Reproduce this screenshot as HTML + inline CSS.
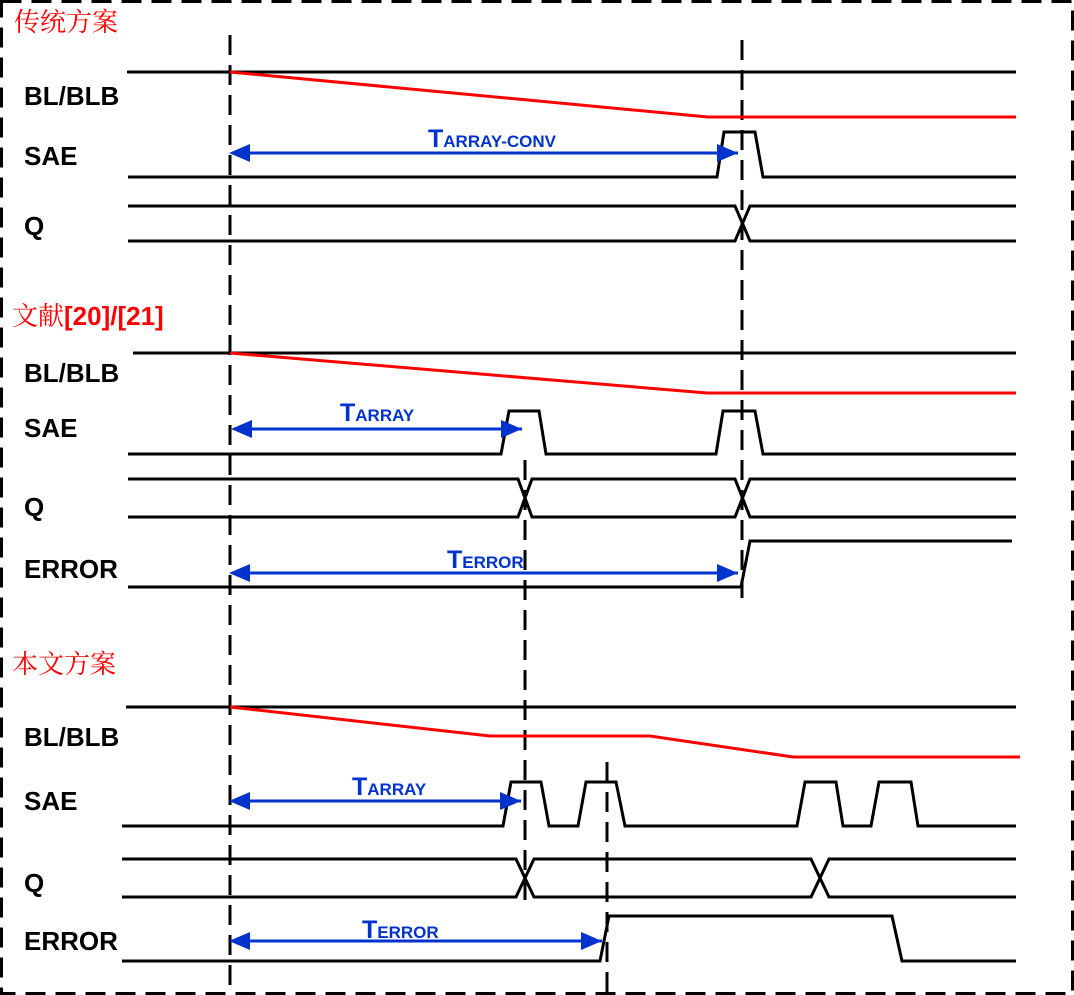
<!DOCTYPE html>
<html><head><meta charset="utf-8"><style>
html,body{margin:0;padding:0;background:#fff;}
svg{display:block;}
.lbl{font-family:"Liberation Sans",Arial,sans-serif;font-weight:bold;font-size:26px;fill:#000;}
.ttl{font-family:"Liberation Serif","Noto Serif CJK SC","Noto Sans CJK SC",serif;font-size:26px;fill:#ff0000;}
.ttlb{font-family:"Liberation Sans",sans-serif;font-weight:bold;font-size:26px;fill:#ff0000;}
.ann{font-family:"Liberation Sans",Arial,sans-serif;font-weight:bold;fill:#0033cc;}
.w{fill:none;stroke:#000;stroke-width:3;stroke-linejoin:miter;}
.r{fill:none;stroke:#ff0000;stroke-width:3;}
.d{fill:none;stroke:#000;stroke-width:3;stroke-dasharray:20,10;}
.a{stroke:#0033cc;stroke-width:3;}
</style></head><body>
<svg width="1074" height="995" viewBox="0 0 1074 995">
<defs>
<marker id="ah" markerWidth="8" markerHeight="8" refX="7" refY="4" orient="auto" markerUnits="strokeWidth"><path d="M0,1 L7,4 L0,7 Z" fill="#0033cc"/></marker>
<marker id="at" markerWidth="8" markerHeight="8" refX="1" refY="4" orient="auto" markerUnits="strokeWidth"><path d="M7,1 L0,4 L7,7 Z" fill="#0033cc"/></marker>
</defs>
<rect x="1.5" y="1.5" width="1071" height="992" fill="none" stroke="#000" stroke-width="3" stroke-dasharray="20,10"/>

<line class="d" x1="230" y1="35" x2="230" y2="995"/>
<line class="d" x1="742" y1="40" x2="742" y2="598"/>
<line class="d" x1="525" y1="460" x2="525" y2="905"/>
<line class="d" x1="607" y1="762" x2="607" y2="995"/>

<g>
<text class="ttl" x="14" y="31">传统方案</text>
<text class="lbl" x="24" y="105">BL/BLB</text>
<text class="lbl" x="24" y="165">SAE</text>
<text class="lbl" x="24" y="235">Q</text>
<path class="w" d="M127,72 H1016"/>
<path class="r" d="M230,72 L708,117 H1016"/>
<path class="w" d="M128,177 H717 L724,132 H755 L763,177 H1016"/>
<path class="w" d="M128,206 H735 L750,241 H1016"/>
<path class="w" d="M128,241 H735 L750,206 H1016"/>
<line class="a" x1="232" y1="153" x2="738" y2="153" marker-start="url(#at)" marker-end="url(#ah)"/>
<text class="ann" x="428" y="147"><tspan font-size="25">T</tspan><tspan font-size="17">ARRAY-CONV</tspan></text>
</g>

<g>
<text x="12" y="325"><tspan class="ttl">文献</tspan><tspan class="ttlb">[20]/[21]</tspan></text>
<text class="lbl" x="24" y="382">BL/BLB</text>
<text class="lbl" x="24" y="437">SAE</text>
<text class="lbl" x="24" y="516">Q</text>
<text class="lbl" x="24" y="578">ERROR</text>
<path class="w" d="M133,353 H1016"/>
<path class="r" d="M230,353 L707,393 H1016"/>
<path class="w" d="M128,454 H501 L509,411 H539 L546,454 H716 L723,411 H755 L763,454 H1016"/>
<path class="w" d="M128,479 H518 L532,517 H735 L750,479 H1016"/>
<path class="w" d="M128,517 H518 L532,479 H735 L750,517 H1016"/>
<path class="w" d="M128,587 H741 L750,541 H1012"/>
<line class="a" x1="234" y1="429" x2="522" y2="429" marker-start="url(#at)" marker-end="url(#ah)"/>
<text class="ann" x="340" y="421"><tspan font-size="25">T</tspan><tspan font-size="17">ARRAY</tspan></text>
<line class="a" x1="232" y1="573" x2="738" y2="573" marker-start="url(#at)" marker-end="url(#ah)"/>
<text class="ann" x="447" y="568"><tspan font-size="25">T</tspan><tspan font-size="17">ERROR</tspan></text>
</g>

<g>
<text class="ttl" x="12" y="673">本文方案</text>
<text class="lbl" x="24" y="746">BL/BLB</text>
<text class="lbl" x="24" y="810">SAE</text>
<text class="lbl" x="24" y="892">Q</text>
<text class="lbl" x="24" y="950">ERROR</text>
<path class="w" d="M126,707 H1016"/>
<path class="r" d="M230,707 L490,736 H650 L793,757 H1020"/>
<path class="w" d="M122,826 H503 L511,782 H541 L549,826 H578 L586,782 H616 L625,826 H797 L805,782 H836 L843,826 H871 L879,782 H911 L918,826 H1016"/>
<path class="w" d="M122,859 H516 L534,897 H811 L829,859 H1016"/>
<path class="w" d="M122,897 H516 L534,859 H811 L829,897 H1016"/>
<path class="w" d="M122,961 H600 L609,916 H892 L902,961 H1016"/>
<line class="a" x1="232" y1="801" x2="521" y2="801" marker-start="url(#at)" marker-end="url(#ah)"/>
<text class="ann" x="352" y="795"><tspan font-size="25">T</tspan><tspan font-size="17">ARRAY</tspan></text>
<line class="a" x1="232" y1="941" x2="602" y2="941" marker-start="url(#at)" marker-end="url(#ah)"/>
<text class="ann" x="362" y="938"><tspan font-size="25">T</tspan><tspan font-size="17">ERROR</tspan></text>
</g>
</svg>
</body></html>
